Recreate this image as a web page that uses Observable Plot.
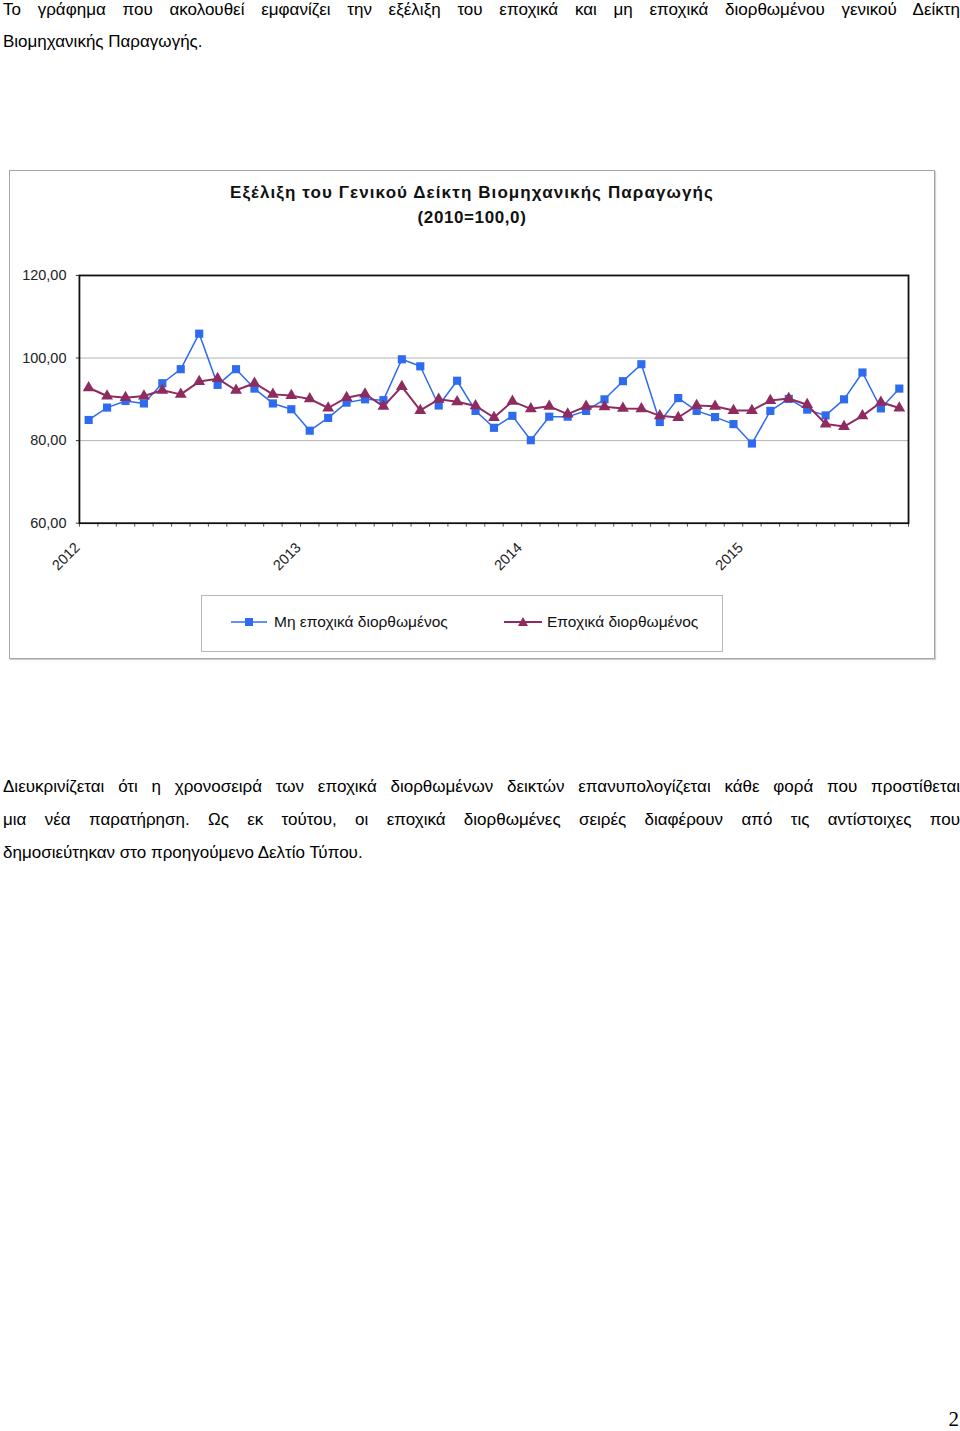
<!DOCTYPE html>
<html>
<head>
<meta charset="utf-8">
<script src="https://cdn.jsdelivr.net/npm/d3@7"></script>
<script src="https://cdn.jsdelivr.net/npm/@observablehq/plot@0.6"></script>
<style>
  html, body { margin:0; padding:0; background:#fff; }
  body { width:960px; height:1431px; position:relative; overflow:hidden; color:#000; }
  .narrow { font-family:"Liberation Sans",Arial,sans-serif; }
  .jline { position:absolute; left:3px; width:957px; font-size:17px; line-height:32px; white-space:nowrap; }
  .just { text-align:justify; text-align-last:justify; }
  #box { position:absolute; left:9px; top:170px; width:924px; height:487px; border:1px solid #a6a6a6; box-shadow:1px 1px 1px #d0d0d0; }
  #title { position:absolute; left:0; top:9px; width:924px; text-align:center; font-family:"Liberation Sans",Arial,sans-serif; font-weight:bold; font-size:17px; line-height:25px; letter-spacing:0.6px; color:#111; }
  #title .l1 { letter-spacing:1.1px; }
  #chart { position:absolute; left:0; top:74px; }
  #legend { position:absolute; left:191px; top:424px; width:520px; height:55px; border:1px solid #b8b8b8; font-size:15.5px; color:#111; }
  .item { position:absolute; top:0; height:55px; line-height:51px; white-space:nowrap; }
  .item svg { position:absolute; top:20px; }
  #pagenum { position:absolute; right:1px; top:1407px; font-family:"Liberation Serif","Times New Roman",serif; font-size:21px; }
</style>
</head>
<body>
<div class="narrow jline just" style="top:-6px;">Το γράφημα που ακολουθεί εμφανίζει την εξέλιξη του εποχικά και μη εποχικά διορθωμένου γενικού Δείκτη</div>
<div class="narrow jline" style="top:26px;">Βιομηχανικής Παραγωγής.</div>

<div id="box">
  <div id="title"><span class="l1">Εξέλιξη του Γενικού Δείκτη Βιομηχανικής Παραγωγής</span><br>(2010=100,0)</div>
  <div id="chart"></div>
  <div id="legend" class="narrow">
    <div class="item" style="left:29px;">
      <svg width="38" height="12" style="left:0;"><line x1="0" y1="6" x2="36" y2="6" stroke="#2f6bef" stroke-width="1.6"/><rect x="14" y="2" width="8" height="8" fill="#2f6bef"/></svg>
      <span style="position:absolute;left:43px;" id="leg0"></span>
    </div>
    <div class="item" style="left:302px;">
      <svg width="40" height="12" style="left:0;"><line x1="0" y1="6" x2="38" y2="6" stroke="#8e2c60" stroke-width="2"/><polygon points="19,1 24,10 14,10" fill="#8e2c60"/></svg>
      <span style="position:absolute;left:43px;" id="leg1"></span>
    </div>
  </div>
</div>

<div class="narrow jline just" style="top:770px; line-height:33px;">Διευκρινίζεται ότι η χρονοσειρά των εποχικά διορθωμένων δεικτών επανυπολογίζεται κάθε φορά που προστίθεται</div>
<div class="narrow jline just" style="top:803px; line-height:33px;">μια νέα παρατήρηση. Ως εκ τούτου, οι εποχικά διορθωμένες σειρές διαφέρουν από τις αντίστοιχες που</div>
<div class="narrow jline" style="top:836px; line-height:33px;">δημοσιεύτηκαν στο προηγούμενο Δελτίο Τύπου.</div>

<div id="pagenum">2</div>

<script>
// ---- data (monthly, January 2012 – September 2015) ----
const seriesNames = ["Μη εποχικά διορθωμένος", "Εποχικά διορθωμένος"];
const yearLabels = ["2012", "2013", "2014", "2015"];
const yTicks = [60, 80, 100, 120];
const nsaValues = [
  85.0, 88.0, 89.6, 89.0, 93.9, 97.3, 105.9, 93.5, 97.3, 92.6, 89.0, 87.6,
  82.4, 85.5, 89.2, 90.0, 89.8, 99.7, 98.0, 88.5, 94.5, 87.2, 83.1, 86.0,
  80.1, 85.8, 85.8, 87.2, 90.0, 94.4, 98.5, 84.5, 90.3, 87.2, 85.7, 84.0,
  79.3, 87.2, 90.1, 87.5, 86.1, 90.0, 96.5, 87.8, 92.6
];
const saValues = [
  92.8, 90.8, 90.4, 90.8, 92.2, 91.2, 94.3, 95.0, 92.2, 93.9, 91.2, 90.9,
  90.1, 87.9, 90.4, 91.3, 88.3, 93.1, 87.3, 90.0, 89.4, 88.4, 85.6, 89.5,
  87.7, 88.3, 86.4, 88.3, 88.2, 87.8, 87.7, 86.0, 85.6, 88.5, 88.3, 87.3,
  87.3, 89.7, 90.2, 88.7, 84.0, 83.4, 86.0, 89.3, 87.9
];

const blue = "#2f6bef";
const purple = "#8e2c60";
document.getElementById("leg0").textContent = seriesNames[0];
document.getElementById("leg1").textContent = seriesNames[1];

const data = nsaValues.map((v, i) => ({i, nsa: v, sa: saValues[i]}));
const n = nsaValues.length;
const boundaries = d3.range(n + 1).map(k => k - 0.5);
const yearPos = yearLabels.map((y, k) => k * 12 - 0.5);
const fmt = d => d.toFixed(2).replace(".", ",");

const chart = Plot.plot({
  width: 925,
  height: 340,
  marginTop: 30,
  marginLeft: 69,
  marginRight: 26,
  marginBottom: 62,
  x: {type: "linear", domain: [-0.5, n - 0.5], axis: null},
  y: {domain: [60, 120], axis: null},
  style: {fontFamily: "'Liberation Sans', Arial, sans-serif", fontSize: "14.5px", color: "#222", background: "transparent"},
  marks: [
    Plot.gridY([80, 100], {stroke: "#b4b4b4", strokeOpacity: 1, strokeWidth: 1}),
    Plot.axisY(yTicks, {tickSize: 3, tickPadding: 10, tickFormat: fmt, stroke: "#333", label: null}),
    Plot.axisX(boundaries, {tickSize: 4, tickFormat: () => "", stroke: "#555", label: null}),
    Plot.axisX(yearPos, {tickSize: 0, tickPadding: 22, tickRotate: -45, tickFormat: (d, k) => yearLabels[k], fontSize: 14.5, label: null, dx: -2}),
    Plot.frame({stroke: "#111", strokeWidth: 1.8}),
    Plot.line(data, {x: "i", y: "nsa", stroke: blue, strokeWidth: 1.5}),
    Plot.dot(data, {x: "i", y: "nsa", symbol: "square", r: 4.6, fill: blue, stroke: "none"}),
    Plot.line(data, {x: "i", y: "sa", stroke: purple, strokeWidth: 2}),
    Plot.dot(data, {x: "i", y: "sa", symbol: "triangle", r: 4.4, fill: purple, stroke: "none"})
  ]
});
document.getElementById("chart").appendChild(chart);
</script>
</body>
</html>
